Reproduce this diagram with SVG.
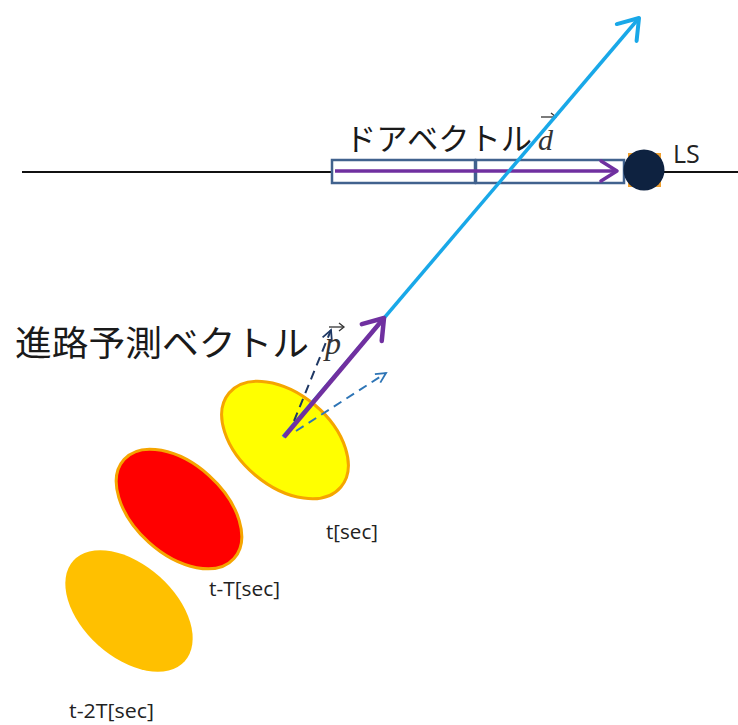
<svg xmlns="http://www.w3.org/2000/svg" width="738" height="725" viewBox="0 0 738 725">
<style>
.jp{font-family:"Noto Sans CJK JP","Noto Sans",sans-serif;fill:#1a1a1a}
.lbl{font-family:"Open Sans","Noto Sans",sans-serif;fill:#222}
.vec{font-family:"Liberation Serif",serif;font-style:italic;fill:#333}
</style>
<defs>
<marker id="vBlue" markerWidth="10" markerHeight="10" refX="7" refY="5" orient="auto" markerUnits="userSpaceOnUse" viewBox="0 0 10 10" overflow="visible">
<polyline points="-12,-8 7,5 -12,18" fill="none" stroke="#19a8e8" stroke-width="4" stroke-linecap="round" stroke-linejoin="round"/>
</marker>
<marker id="vPurple" markerWidth="10" markerHeight="10" refX="7" refY="5" orient="auto" markerUnits="userSpaceOnUse" viewBox="0 0 10 10" overflow="visible">
<polyline points="-12,-8 7,5 -12,18" fill="none" stroke="#7030a0" stroke-width="4.5" stroke-linecap="round" stroke-linejoin="round"/>
</marker>
<marker id="vPurpleS" markerWidth="10" markerHeight="10" refX="7" refY="5" orient="auto" markerUnits="userSpaceOnUse" viewBox="0 0 10 10" overflow="visible">
<polyline points="-9,-5 7,5 -9,15" fill="none" stroke="#7030a0" stroke-width="3.5" stroke-linecap="round" stroke-linejoin="round"/>
</marker>
<marker id="vNavy" markerWidth="10" markerHeight="10" refX="7" refY="5" orient="auto" markerUnits="userSpaceOnUse" viewBox="0 0 10 10" overflow="visible">
<polyline points="-3,0 7,5 -3,10" fill="none" stroke="#1f3864" stroke-width="1.8"/>
</marker>
<marker id="vLBlue" markerWidth="10" markerHeight="10" refX="7" refY="5" orient="auto" markerUnits="userSpaceOnUse" viewBox="0 0 10 10" overflow="visible">
<polyline points="-3,0 7,5 -3,10" fill="none" stroke="#2e75b6" stroke-width="1.8"/>
</marker>
</defs>

<g id="ground-line">
<line x1="22" y1="172" x2="738" y2="172" stroke="#111" stroke-width="2"/>
</g>

<g id="door-vector">
<rect x="332" y="160" width="143" height="23" fill="#fff" stroke="#41628e" stroke-width="2.5"/>
<rect x="476" y="160" width="148" height="23" fill="#fff" stroke="#41628e" stroke-width="2.5"/>
<line x1="335" y1="171" x2="617" y2="171" stroke="#7030a0" stroke-width="3.5" marker-end="url(#vPurpleS)"/>
<text class="jp" x="345" y="150" font-size="31" textLength="187" lengthAdjust="spacingAndGlyphs">ドアベクトル</text>
<text class="vec" x="538" y="150" font-size="30">d</text>
<line x1="541" y1="117" x2="555" y2="117" stroke="#333" stroke-width="1.3"/>
<polyline points="551,113 556,117 551,121" fill="none" stroke="#333" stroke-width="1.3"/>
</g>

<g id="LS">
<rect x="628" y="153" width="33" height="34" fill="#f0a030"/>
<circle cx="644" cy="170" r="20.5" fill="#0e2240"/>
<text class="lbl" x="673" y="163" font-size="25">LS</text>
</g>

<g id="ellipse-t2T">
<ellipse cx="129" cy="611" rx="75" ry="46" transform="rotate(42 129 611)" fill="#ffc000"/>
<text class="lbl" x="69" y="718" font-size="20" textLength="85" lengthAdjust="spacingAndGlyphs">t-2T[sec]</text>
</g>

<g id="ellipse-tT">
<ellipse cx="179" cy="509" rx="74" ry="45" transform="rotate(42 179 509)" fill="#ff0000" stroke="#f5a500" stroke-width="3"/>
<text class="lbl" x="209" y="596" font-size="20" textLength="71" lengthAdjust="spacingAndGlyphs">t-T[sec]</text>
</g>

<g id="ellipse-t">
<ellipse cx="285" cy="440" rx="73" ry="46" transform="rotate(40 285 440)" fill="#ffff00" stroke="#f5a500" stroke-width="3"/>
<text class="lbl" x="326" y="539" font-size="20" textLength="52" lengthAdjust="spacingAndGlyphs">t[sec]</text>
</g>

<g id="connectors">
<line x1="283" y1="437" x2="639" y2="18" stroke="#19a8e8" stroke-width="3.5" marker-end="url(#vBlue)"/>
<line x1="294" y1="421" x2="331" y2="330" stroke="#1f3864" stroke-width="2" stroke-dasharray="9,6" marker-end="url(#vNavy)"/>
<line x1="296" y1="431" x2="386" y2="373" stroke="#2e75b6" stroke-width="2" stroke-dasharray="9,6" marker-end="url(#vLBlue)"/>
<line x1="284" y1="437" x2="384" y2="318" stroke="#7030a0" stroke-width="4.5" marker-end="url(#vPurple)"/>
</g>

<g id="path-vector-label">
<text class="jp" x="15" y="356" font-size="35" textLength="294" lengthAdjust="spacingAndGlyphs">進路予測ベクトル</text>
<text class="vec" x="325" y="354" font-size="32">p</text>
<line x1="329" y1="327" x2="343" y2="327" stroke="#333" stroke-width="1.3"/>
<polyline points="339,323 344,327 339,331" fill="none" stroke="#333" stroke-width="1.3"/>
</g>
</svg>
